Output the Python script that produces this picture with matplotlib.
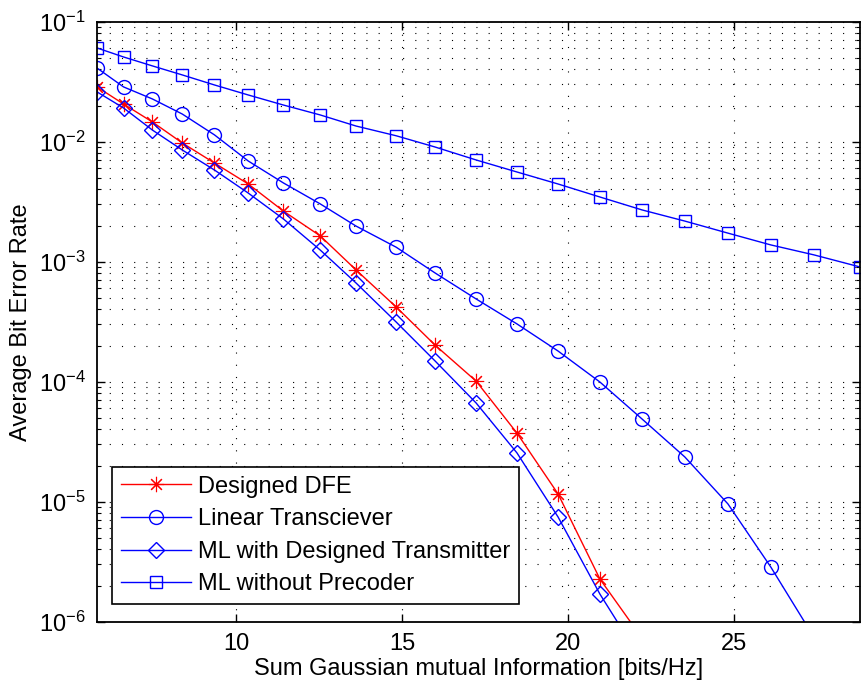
import numpy as np
import matplotlib
matplotlib.use("Agg")
import matplotlib.pyplot as plt
from matplotlib.ticker import LogLocator, FixedLocator, NullFormatter

plt.rcParams['font.family'] = ['Liberation Sans', 'DejaVu Sans']
plt.rcParams['mathtext.fontset'] = 'custom'
plt.rcParams['mathtext.rm'] = 'Liberation Sans'
plt.rcParams['mathtext.it'] = 'Liberation Sans'
plt.rcParams['mathtext.default'] = 'regular'

# common x grid (sum mutual information)
mi = [5.8, 6.6, 7.47, 8.37, 9.34, 10.36, 11.42, 12.53, 13.61, 14.82, 15.99,
      17.23, 18.46, 19.70, 20.96, 22.23, 23.52, 24.82, 26.11, 27.41, 28.8]

ber_dfe = [0.0286, 0.0206, 0.0146, 0.00976, 0.00664, 0.00444, 0.00264, 0.00164,
           0.000853, 0.000419, 0.000202, 0.000101, 3.73e-5, 1.16e-5, 2.27e-6, 7.3e-7]
ber_lin = [0.0411, 0.0286, 0.0227, 0.0170, 0.0114, 0.00690, 0.00453, 0.00303,
           0.00198, 0.00132, 0.000806, 0.000489, 0.000303, 0.000180, 9.94e-5,
           4.89e-5, 2.36e-5, 9.58e-6, 2.86e-6, 7.45e-7]
ber_mld = [0.0260, 0.0191, 0.0125, 0.00853, 0.00581, 0.00373, 0.00227, 0.00125,
           0.000664, 0.000314, 0.000149, 6.64e-5, 2.55e-5, 7.45e-6, 1.70e-6, 4.7e-7]
ber_ml = [0.0604, 0.0508, 0.0428, 0.0360, 0.0297, 0.0245, 0.0202, 0.0167, 0.0135,
          0.0112, 0.00903, 0.00704, 0.00559, 0.00444, 0.00346, 0.00270, 0.00218,
          0.00173, 0.00138, 0.00114, 0.000904]

labels = ['Designed DFE', 'Linear Transciever', 'ML with Designed Transmitter',
          'ML without Precoder']

fig = plt.figure(figsize=(8.63, 6.86), dpi=100)
ax = fig.add_axes([0.1124, 0.0937, 0.8841, 0.8747])

ax.semilogy(mi[:len(ber_dfe)], ber_dfe, color='r', marker=(8, 2, 0), ms=11,
            mew=0.8, lw=1.0, label=labels[0])
ax.semilogy(mi[:len(ber_lin)], ber_lin, color='b', marker='o', ms=10,
            mfc='none', mew=1.0, lw=1.0, label=labels[1])
ax.semilogy(mi[:len(ber_mld)], ber_mld, color='b', marker='D', ms=8,
            mfc='none', mew=1.0, lw=1.0, label=labels[2])
ax.semilogy(mi, ber_ml, color='b', marker='s', ms=9, mfc='none', mew=1.0,
            lw=1.0, label=labels[3])

ax.set_xlim(5.8, 28.8)
ax.set_ylim(1e-6, 1e-1)
ax.xaxis.set_major_locator(FixedLocator([10, 15, 20, 25]))
ax.yaxis.set_major_locator(LogLocator(base=10, numticks=10))
ax.yaxis.set_minor_locator(LogLocator(base=10, subs=np.arange(2, 10), numticks=20))
ax.yaxis.set_minor_formatter(NullFormatter())

dot = (0, (1, 10))
ax.grid(True, which='major', axis='both', color='k', linestyle=dot, linewidth=0.8)
ax.grid(True, which='minor', axis='y', color='k', linestyle=dot, linewidth=0.8)

ax.tick_params(which='both', direction='in', top=True, right=True, labelsize=17)
ax.tick_params(which='major', length=6, width=1, pad=8)
ax.tick_params(which='minor', length=3, width=0.8)
for s in ax.spines.values():
    s.set_linewidth(1.3)

ax.set_xlabel('Sum Gaussian mutual Information [bits/Hz]', fontsize=17, labelpad=2)
ax.set_ylabel('Average Bit Error Rate', fontsize=17, labelpad=5)

leg = ax.legend(loc='lower left', bbox_to_anchor=(0.02, 0.03), borderaxespad=0,
                fontsize=17, handlelength=3.0, handletextpad=0.3,
                labelspacing=0.45, fancybox=False, framealpha=1,
                edgecolor='k', borderpad=0.35)
leg.get_frame().set_linewidth(1.2)

fig.savefig('out.png', dpi=100)
